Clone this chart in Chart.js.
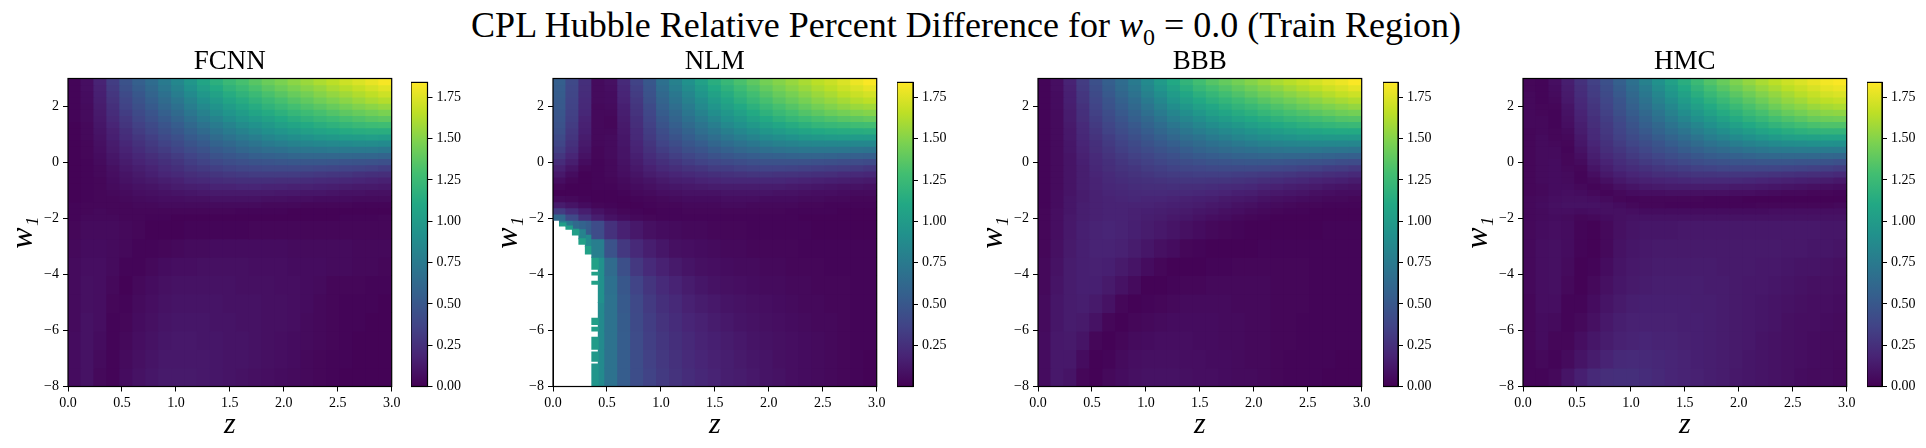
<!DOCTYPE html>
<html>
<head>
<meta charset="utf-8">
<title>CPL Hubble Relative Percent Difference</title>
<script src="https://cdn.jsdelivr.net/npm/chart.js@4"></script>
<style>
  body { margin: 0; background: #fff; width: 1926px; height: 448px; overflow: hidden; position: relative; }
  canvas { position: absolute; }
  h1 { position: absolute; left: 0; top: 4px; width: 1932px; margin: 0; text-align: center; white-space: nowrap;
       font: normal 36px "Liberation Serif", serif; color: #000; }
  h1 sub { font-size: 24px; line-height: 0; }
</style>
</head>
<body>
<h1>CPL Hubble Relative Percent Difference for <i>w</i><sub>0</sub> = 0.0 (Train Region)</h1>
<script>
// Data, in percent x 100 so the rows stay short
const n = null;
const zCenters = [0.06,0.18,0.30,0.42,0.54,0.66,0.78,0.90,1.02,1.14,1.26,1.38,1.50,1.62,1.74,1.86,1.98,2.10,2.22,2.34,2.46,2.58,2.70,2.82,2.94];
const wEdges = [3,2.78,2.56,2.34,2.12,1.9,1.68,1.46,1.24,1.02,0.8,0.58,0.36,0.14,-0.08,-0.3,-0.52,-0.74,-0.96,-1.18,-1.4,-1.62,-1.84,-2.06,-2.72,-3.38,-4.04,-4.7,-5.36,-6.02,-6.68,-7.34,-8];
const zTicks = [0,0.5,1,1.5,2,2.5,3];
const wTicks = [-8,-6,-4,-2,0,2];
const colorTicks = [0,0.25,0.5,0.75,1,1.25,1.5,1.75];
const colorRange = [0,1.84];
const nlmColorRange = [0.002,1.84];

const fcnnValues = [
[2,7,18,33,46,56,65,75,85,96,107,116,124,130,136,142,147,152,156,161,165,170,174,178,182],
[2,7,17,31,44,53,62,72,81,92,102,111,119,125,131,137,142,147,151,155,160,164,168,172,176],
[2,6,16,29,41,50,59,68,77,87,97,105,113,119,125,131,136,141,145,150,154,158,162,166,170],
[2,6,15,27,38,47,55,64,72,82,91,99,107,113,119,125,130,135,139,144,148,152,156,160,163],
[2,5,14,25,36,44,52,60,68,77,86,94,101,107,113,119,124,129,133,137,141,145,149,152,155],
[2,5,13,23,33,41,48,56,63,72,80,88,95,101,107,112,117,122,126,130,134,138,141,144,147],
[2,5,12,21,30,38,45,52,59,67,75,82,89,95,100,105,110,115,119,123,126,130,133,136,138],
[1,4,11,19,28,35,41,48,54,62,69,76,82,88,93,98,103,107,111,115,118,121,124,126,127],
[1,4,10,17,25,32,38,44,50,57,63,70,76,81,86,91,95,99,103,106,109,112,114,115,115],
[1,4,9,16,23,29,34,40,45,52,57,64,69,74,78,83,87,90,93,96,98,100,101,102,101],
[1,3,8,14,20,26,31,36,41,47,52,58,62,67,71,75,78,81,83,85,86,87,88,88,87],
[1,3,7,13,18,23,28,32,37,42,46,52,55,60,63,66,68,71,72,73,74,74,74,74,73],
[1,3,6,11,16,20,24,28,32,37,41,46,49,52,55,57,58,60,61,61,61,61,60,60,59],
[1,2,5,10,14,18,21,25,28,33,36,40,43,45,47,48,49,50,50,50,49,48,47,46,45],
[1,2,4,8,12,15,18,22,25,29,31,34,36,38,39,40,40,40,40,39,38,37,36,35,33],
[1,2,4,7,10,13,16,19,21,24,26,28,30,31,32,32,32,32,31,30,29,28,26,25,24],
[1,2,3,6,9,11,13,15,17,20,21,23,24,25,25,25,24,24,23,22,21,20,19,18,17],
[1,2,3,5,7,9,10,12,14,15,16,18,18,19,19,18,18,17,17,16,15,14,13,13,12],
[1,2,3,4,5,7,8,9,10,11,12,13,13,13,13,13,12,12,11,11,10,9,9,8,8],
[1,2,3,3,4,5,6,7,7,8,8,9,9,9,9,8,8,7,7,6,6,6,5,5,5],
[2,3,3,3,3,4,4,5,5,5,5,5,5,5,5,4,4,4,3,3,3,3,2,2,2],
[2,3,4,3,3,3,3,3,3,3,3,3,3,2,2,2,2,1,1,1,1,1,1,1,1],
[2,4,4,4,3,3,2,2,1,1,1,1,1,1,1,1,1,1,1,1,1,2,2,2,3],
[3,5,5,5,4,3,1,1,1,2,2,2,2,2,3,3,3,3,3,3,3,3,3,3,3],
[4,6,6,5,4,2,2,3,4,5,5,6,6,6,6,6,6,5,5,5,5,5,4,4,4],
[5,7,7,5,2,2,4,6,7,7,8,8,8,8,7,7,7,6,6,6,5,5,4,4,3],
[5,8,7,4,1,4,6,8,9,9,9,9,9,8,8,8,7,7,6,5,3,3,3,2,2],
[5,8,7,3,2,5,7,9,10,10,10,10,9,9,9,8,8,7,6,4,3,2,2,2,1],
[5,9,7,2,3,6,8,10,11,11,11,10,10,9,9,8,8,7,5,4,3,2,2,1,1],
[6,9,6,2,4,7,9,11,12,12,11,11,10,10,9,8,7,6,5,4,3,2,1,1,1],
[6,9,5,2,5,8,10,12,12,12,12,11,10,10,9,8,7,6,4,3,2,2,1,1,1],
[6,9,4,2,6,9,11,13,13,13,12,11,10,9,8,7,6,5,4,3,2,1,1,1,1]
];

const nlmValues = [
[55,40,25,5,8,22,36,50,68,80,92,104,115,123,131,138,145,150,155,160,165,169,174,179,183],
[54,39,24,5,7,20,34,48,65,77,88,99,110,118,126,133,140,146,151,156,161,165,170,174,178],
[53,38,23,5,6,19,32,46,62,73,84,95,105,113,121,128,135,141,146,151,156,160,165,169,172],
[52,37,22,5,6,18,30,44,59,70,80,90,100,108,116,123,130,136,141,146,151,155,159,163,166],
[51,36,21,4,5,16,28,41,56,66,76,86,95,103,110,117,124,130,135,140,145,149,153,156,158],
[49,35,20,4,4,15,27,39,53,62,72,81,90,97,104,111,118,124,129,134,138,142,145,148,150],
[48,34,18,4,3,14,25,37,50,59,68,76,84,92,98,105,111,117,122,126,130,133,136,138,140],
[46,32,17,4,3,13,24,35,47,55,63,71,78,86,92,98,104,109,113,117,121,123,125,127,128],
[44,30,16,4,4,12,22,33,43,51,58,66,72,79,85,90,96,100,104,107,110,112,113,114,115],
[41,28,14,4,5,11,21,31,40,47,54,60,66,72,77,82,87,90,93,96,98,99,100,100,100],
[38,26,13,4,5,11,19,28,37,43,49,54,60,65,69,73,77,80,82,84,85,85,85,85,85],
[34,23,11,3,5,10,18,26,33,38,44,48,53,57,61,64,67,69,71,72,72,72,72,71,70],
[29,19,9,3,5,10,16,23,29,34,38,42,46,49,52,54,56,57,58,59,59,58,57,56,55],
[23,15,6,2,4,9,14,20,25,29,33,36,39,41,43,45,46,46,46,46,45,44,43,42,41],
[17,10,3,2,4,8,12,17,21,24,27,29,32,33,35,36,37,37,36,35,34,33,32,31,29],
[12,6,1,2,4,7,10,14,17,19,21,23,25,26,27,28,28,27,27,26,25,24,22,21,20],
[7,3,1,2,3,5,8,10,13,15,16,18,19,20,20,20,20,20,19,18,17,16,15,14,13],
[3,1,1,2,2,4,6,8,10,11,12,13,14,14,14,14,14,14,13,12,11,10,9,9,8],
[1,1,1,1,1,2,4,5,7,8,9,9,9,10,10,10,10,9,9,8,7,7,6,5,5],
[5,4,2,1,1,1,2,3,4,5,6,6,6,7,7,7,6,6,6,5,5,4,4,3,3],
[14,10,6,3,2,1,1,2,3,3,4,4,4,5,5,4,4,4,4,3,3,2,2,2,2],
[32,23,15,9,5,3,2,1,2,2,3,3,3,3,3,3,3,3,2,2,2,2,1,1,1],
[62,40,25,15,9,6,4,3,2,2,2,2,2,2,2,2,2,2,2,1,1,1,1,1,1],
[n,n,n,42,26,17,12,8,6,5,4,4,3,3,3,2,2,2,2,2,1,1,1,1,1],
[n,n,n,78,46,30,21,15,11,8,7,6,5,4,4,3,3,3,3,2,2,2,2,2,2],
[n,n,n,n,64,44,30,22,17,13,10,8,7,6,5,5,4,4,3,3,3,2,2,2,2],
[n,n,n,n,68,50,37,28,22,18,14,11,9,8,7,6,5,5,4,4,3,3,3,2,2],
[n,n,n,n,69,52,40,31,25,21,17,14,12,10,9,8,7,6,5,4,4,3,3,2,2],
[n,n,n,n,69,53,41,33,27,23,19,17,14,12,10,9,8,7,6,5,4,4,3,2,2],
[n,n,n,n,69,54,42,34,29,25,21,18,16,14,12,10,9,8,7,6,5,4,3,2,2],
[n,n,n,n,69,54,43,35,30,26,22,19,17,15,13,11,10,8,7,6,5,4,3,2,1],
[n,n,n,n,69,54,43,36,31,27,23,20,18,15,14,12,10,9,7,6,5,4,3,2,1]
];

// NLM cells along the white region, narrower than the main grid: z, w low, w high, value
const nlmEdgeCells = [
[0.09,-2.27,-2.16,102],[0.09,-2.16,-2.06,78],
[0.15,-2.38,-2.27,102],[0.15,-2.27,-2.06,73],
[0.21,-2.59,-2.38,102],[0.21,-2.38,-2.06,63],
[0.27,-2.92,-2.72,104],[0.27,-2.72,-2.4,82],[0.27,-2.4,-2.06,58],
[0.33,-3.27,-3.0,104],[0.33,-3.0,-2.6,87],[0.33,-2.6,-2.06,53],
[0.39,-3.81,-3.38,104],[0.39,-4.02,-3.92,104],[0.39,-4.35,-4.24,104],
[0.39,-5.79,-5.56,102],[0.39,-6.02,-5.88,102],[0.39,-6.67,-6.24,100],
[0.39,-7.10,-6.77,98],[0.39,-8,-7.20,95],
[0.45,-5.0,-3.38,92],[0.45,-8,-5.0,87]
];

const bbbValues = [
[2,7,18,32,45,55,65,75,87,99,110,120,128,135,140,145,150,155,160,164,168,172,176,179,183],
[2,7,17,31,43,53,63,72,84,95,105,115,123,129,134,139,144,149,153,158,162,166,170,173,177],
[2,6,16,29,41,51,60,69,80,90,100,109,116,122,128,133,138,143,147,151,155,159,163,167,170],
[2,6,16,28,39,48,57,65,75,85,95,103,110,116,121,126,131,136,140,144,148,152,156,159,162],
[2,6,15,26,37,46,54,62,71,80,89,97,104,109,115,120,124,129,133,137,141,145,148,151,154],
[2,5,14,25,35,43,51,58,67,75,83,90,97,103,108,113,117,122,126,130,133,137,140,143,145],
[2,5,14,24,33,41,48,55,62,70,78,84,90,96,101,106,110,114,118,122,125,128,131,134,135],
[2,5,13,22,31,38,45,51,58,65,72,78,84,89,94,98,102,106,110,113,116,119,121,123,124],
[2,5,12,21,29,36,42,48,54,60,66,72,77,82,86,90,94,98,101,104,106,108,110,111,111],
[2,5,12,20,27,33,39,44,50,55,61,66,70,75,79,83,86,89,92,94,96,97,98,98,98],
[2,5,11,19,25,31,36,41,46,51,55,60,64,68,71,74,77,80,82,83,84,85,85,85,84],
[2,5,11,18,24,29,34,38,42,46,50,54,58,61,64,66,68,70,71,72,72,72,71,71,70],
[2,5,10,17,22,27,31,35,38,42,45,49,52,54,56,58,59,60,61,60,60,59,58,57,56],
[2,5,10,16,21,25,29,32,35,38,41,43,45,47,48,49,50,50,49,48,47,46,45,43,42],
[2,5,10,15,20,24,27,29,32,34,36,38,39,40,41,41,41,40,39,38,36,35,33,32,30],
[2,5,10,15,19,22,25,27,29,31,32,33,34,34,34,33,32,31,30,29,27,26,24,23,21],
[2,5,10,15,18,21,23,25,26,27,28,29,29,28,28,27,26,24,23,21,20,18,17,16,14],
[2,5,10,15,18,20,21,23,24,24,25,24,24,23,22,21,20,18,17,15,14,13,11,10,9],
[2,6,10,14,17,19,20,21,22,22,21,21,20,19,18,16,15,13,12,11,10,8,7,6,6],
[2,6,11,14,17,18,19,20,19,19,18,17,16,15,13,12,11,9,8,7,6,5,4,4,3],
[2,6,11,15,17,18,18,18,18,17,16,15,14,12,11,9,8,6,5,4,3,3,2,2,2],
[3,7,11,15,17,18,18,17,16,15,14,13,11,10,8,7,5,4,3,2,2,1,1,1,1],
[3,7,12,15,17,18,18,17,15,14,12,11,9,7,6,4,3,2,1,1,1,1,1,1,1],
[3,7,12,16,18,19,18,16,14,12,10,8,6,4,3,2,1,1,1,1,1,1,2,2,2],
[3,8,13,16,18,18,17,14,11,8,6,3,2,1,1,1,1,2,2,2,2,2,2,2,2],
[4,9,14,16,17,16,13,10,6,3,1,1,1,2,2,3,3,3,3,3,3,2,2,2,2],
[4,10,14,16,16,13,9,5,1,1,2,3,3,4,4,4,4,4,3,3,3,2,2,2,2],
[5,11,14,15,13,9,3,1,2,3,4,5,5,5,5,4,4,4,3,3,3,2,2,2,2],
[5,11,14,13,9,3,1,3,4,5,6,6,6,6,5,5,4,4,3,3,2,2,2,2,2],
[6,12,13,10,3,1,3,5,6,7,7,7,6,6,5,5,4,4,3,3,2,2,2,2,2],
[6,12,12,6,1,2,5,7,8,8,8,7,7,6,6,5,4,4,3,2,2,2,2,1,1],
[6,12,10,3,1,4,6,8,9,9,9,8,7,7,6,5,5,4,3,2,2,2,1,1,1]
];

const hmcValues = [
[3,2,7,15,26,35,45,56,68,80,92,104,115,125,134,141,148,154,160,165,170,174,178,181,183],
[3,2,6,14,24,33,43,53,65,76,88,99,110,120,129,136,143,149,155,160,165,169,173,177,179],
[4,2,5,13,23,32,41,51,62,73,84,95,105,115,123,130,137,143,149,154,159,164,168,172,174],
[4,2,4,12,21,30,39,48,59,69,80,90,100,109,117,124,131,137,143,149,154,158,163,166,168],
[4,3,3,10,20,28,37,46,56,66,76,85,95,103,111,118,125,131,137,143,148,152,156,159,161],
[4,3,2,9,18,27,35,44,53,62,71,80,89,97,105,112,118,125,130,136,141,145,149,152,153],
[4,4,2,8,17,25,33,41,50,58,67,75,83,91,98,105,112,118,123,129,133,137,141,143,144],
[4,4,2,7,15,24,31,39,47,55,62,70,77,84,91,98,104,110,115,120,124,128,131,133,133],
[3,4,3,5,14,22,30,37,44,51,58,65,71,78,84,90,96,101,106,110,114,117,119,120,120],
[3,5,3,4,12,21,28,35,41,47,53,59,65,71,77,82,87,91,95,99,102,104,105,106,106],
[3,5,4,3,11,19,26,32,38,43,48,54,59,64,69,73,77,81,84,87,89,90,91,92,91],
[3,5,5,2,9,17,24,29,34,39,44,48,53,57,61,64,67,70,72,74,75,76,76,76,76],
[3,5,5,3,7,15,21,26,31,35,39,43,46,50,53,55,57,59,61,62,62,62,62,61,60],
[3,5,6,3,5,13,18,23,27,31,34,37,40,43,45,46,48,48,49,49,49,48,48,47,45],
[3,5,6,4,3,10,15,20,23,26,29,31,33,35,36,38,38,38,38,38,37,36,35,34,32],
[3,5,6,5,2,7,12,16,19,21,24,25,27,28,28,29,29,29,28,27,26,25,24,23,21],
[3,5,6,5,2,4,8,12,15,17,18,19,20,21,21,21,21,20,19,18,17,16,15,14,12],
[3,4,6,6,4,2,4,8,10,12,13,14,14,14,14,14,13,13,12,11,10,9,8,7,6],
[3,4,6,7,6,4,2,4,6,7,7,8,8,8,8,8,7,7,6,5,4,4,3,3,2],
[4,5,7,8,8,7,5,3,2,3,3,3,3,3,2,2,2,1,1,1,1,1,1,1,1],
[4,6,8,9,9,9,8,6,4,3,3,2,2,2,2,2,2,2,3,3,3,3,3,3,4],
[4,5,7,7,6,7,8,8,7,6,6,6,6,6,6,6,6,6,6,7,7,7,7,7,7],
[4,5,6,5,3,4,6,8,9,9,9,9,9,9,9,9,9,9,9,9,9,9,9,9,9],
[4,6,7,6,2,1,4,8,10,11,11,11,12,12,12,12,12,12,12,12,12,12,12,11,11],
[4,7,8,6,2,1,4,9,11,12,13,13,13,13,13,13,13,13,13,13,12,12,11,11,10],
[4,7,8,5,1,2,6,10,12,13,14,14,14,14,14,13,13,13,12,12,11,10,10,9,8],
[4,7,8,4,1,4,8,11,13,14,15,15,15,15,14,14,13,12,12,11,10,9,8,8,7],
[3,7,7,2,2,6,10,13,15,16,16,16,16,15,15,14,13,12,11,10,9,8,7,7,6],
[3,6,5,2,4,8,12,15,17,17,17,17,16,16,15,14,13,12,11,10,8,7,7,6,5],
[3,6,3,3,7,11,14,17,18,19,18,18,17,16,15,14,13,12,10,9,8,7,6,5,5],
[2,4,2,5,10,14,18,21,22,21,20,19,18,16,15,14,13,11,10,9,8,7,6,5,4],
[2,2,4,10,16,21,24,25,25,23,21,19,18,17,15,14,12,11,10,9,8,6,5,5,4]
];

// Layout
const plotTop = 78.5, plotW = 323.7, plotH = 308;
const yAxisW = 60, xAxisH = 54, chartTop = 40;
const panels = [
  { title: 'FCNN', values: fcnnValues, edge: [], plotLeft: 68, barLeft: 411, barW: 16.5, range: colorRange },
  { title: 'NLM', values: nlmValues, edge: nlmEdgeCells, plotLeft: 553, barLeft: 896.5, barW: 16, range: nlmColorRange },
  { title: 'BBB', values: bbbValues, edge: [], plotLeft: 1038, barLeft: 1382.5, barW: 15, range: colorRange },
  { title: 'HMC', values: hmcValues, edge: [], plotLeft: 1523, barLeft: 1867, barW: 15, range: colorRange }
];

const viridisStops = ['#440154','#482475','#414487','#355f8d','#2a788e','#21918c','#22a884','#42be71','#7ad151','#bddf26','#fde725'];
const hexToRgb = h => [1, 3, 5].map(i => parseInt(h.slice(i, i + 2), 16));
const viridis = t => {
  const p = Math.max(0, Math.min(1, t)) * (viridisStops.length - 1);
  const i = Math.min(Math.floor(p), viridisStops.length - 2);
  const a = hexToRgb(viridisStops[i]), b = hexToRgb(viridisStops[i + 1]);
  const c = a.map((v, k) => Math.round(v + (b[k] - v) * (p - i)));
  return `rgb(${c[0]},${c[1]},${c[2]})`;
};
const cellColor = ctx => ctx.raw ? viridis(ctx.raw.v / 100 / colorRange[1]) : '#fff';

Chart.defaults.font.family = '"Liberation Serif", serif';
Chart.defaults.font.size = 14;
Chart.defaults.color = '#000';
Chart.defaults.animation = false;

const framePlugin = {
  id: 'frame',
  afterDatasetsDraw(chart) {
    const { left, top, width, height } = chart.chartArea;
    chart.ctx.save();
    chart.ctx.strokeStyle = '#000';
    chart.ctx.lineWidth = 1.2;
    chart.ctx.strokeRect(left, top, width, height);
    chart.ctx.restore();
  }
};

const addCanvas = (left, top, width, height) => {
  const c = document.createElement('canvas');
  c.width = width;
  c.height = height;
  c.style.left = left + 'px';
  c.style.top = top + 'px';
  document.body.appendChild(c);
  return c;
};

const tickGrid = { display: true, drawOnChartArea: false, drawTicks: true, tickLength: 5, color: '#000', lineWidth: 1 };
const minus = v => String(v).replace('-', '\u2212');

const createHeatmap = p => {
  const hasEdge = p.edge.length > 0;
  const rows = p.values.map((row, i) => ({
    data: row.map((v, j) => v === null ? null : { x: zCenters[j], y: [wEdges[i + 1], wEdges[i]], v })
             .filter(d => d !== null),
    barPercentage: hasEdge ? 4 : 1
  }));
  const edgeRows = p.edge.map(c => ({
    data: [{ x: c[0], y: [c[1], c[2]], v: c[3] }],
    barPercentage: 2
  }));
  const width = 400, height = 401;
  return new Chart(addCanvas(p.plotLeft - yAxisW, chartTop, width, height), {
    type: 'bar',
    data: { datasets: rows.concat(edgeRows) },
    options: {
      responsive: false,
      events: [],
      grouped: false,
      categoryPercentage: 1,
      inflateAmount: 0.5,
      backgroundColor: cellColor,
      borderWidth: 0,
      layout: { padding: { right: width - yAxisW - plotW, bottom: height - (plotTop - chartTop) - plotH - xAxisH } },
      scales: {
        x: {
          type: 'linear', min: 0, max: 3, offset: false,
          grid: { ...tickGrid, offset: false },
          border: { color: '#000' },
          afterBuildTicks: s => { s.ticks = zTicks.map(value => ({ value })); },
          afterFit: s => { s.height = xAxisH; },
          ticks: { autoSkip: false, maxRotation: 0, padding: 3, callback: v => v.toFixed(1) },
          title: { display: true, text: 'z', padding: 0, font: { size: 30, style: 'italic', lineHeight: 1 } }
        },
        y: {
          type: 'linear', min: -8, max: 3,
          grid: tickGrid,
          border: { color: '#000' },
          afterBuildTicks: s => { s.ticks = wTicks.map(value => ({ value })); },
          afterFit: s => { s.width = yAxisW; },
          ticks: { autoSkip: false, padding: 4, callback: minus },
          title: { display: true, text: 'w\u2081', padding: 0, font: { size: 32, style: 'italic', lineHeight: 1 } }
        }
      },
      plugins: {
        legend: { display: false },
        tooltip: { enabled: false },
        title: {
          display: true, text: p.title, fullSize: false,
          font: { size: 27, weight: 'normal', lineHeight: 1.2 },
          padding: { top: 5.5, bottom: 0.6 }
        }
      }
    },
    plugins: [framePlugin]
  });
};

const createColorbar = p => {
  const top = 70, width = 70, height = 330;
  const barFill = ctx => {
    const area = ctx.chart.chartArea;
    if (!area) return '#000';
    const g = ctx.chart.ctx.createLinearGradient(0, area.bottom, 0, area.top);
    viridisStops.forEach((c, i) => g.addColorStop(i / (viridisStops.length - 1), c));
    return g;
  };
  return new Chart(addCanvas(p.barLeft, top, width, height), {
    type: 'bar',
    data: { labels: [''], datasets: [{ data: [p.range], backgroundColor: barFill, barPercentage: 1, categoryPercentage: 1, inflateAmount: 0 }] },
    options: {
      responsive: false,
      events: [],
      layout: { padding: { top: plotTop - top, bottom: height - (plotTop - top) - plotH, right: width - p.barW - 50 } },
      scales: {
        x: { display: false },
        y: {
          position: 'right', min: p.range[0], max: p.range[1],
          grid: tickGrid,
          border: { color: '#000' },
          afterBuildTicks: s => { s.ticks = colorTicks.filter(v => v >= p.range[0]).map(value => ({ value })); },
          afterFit: s => { s.width = 50; },
          ticks: { autoSkip: false, padding: 4, callback: v => v.toFixed(2) }
        }
      },
      plugins: { legend: { display: false }, tooltip: { enabled: false } }
    },
    plugins: [framePlugin]
  });
};

panels.forEach(p => {
  createHeatmap(p);
  createColorbar(p);
});
</script>
</body>
</html>
